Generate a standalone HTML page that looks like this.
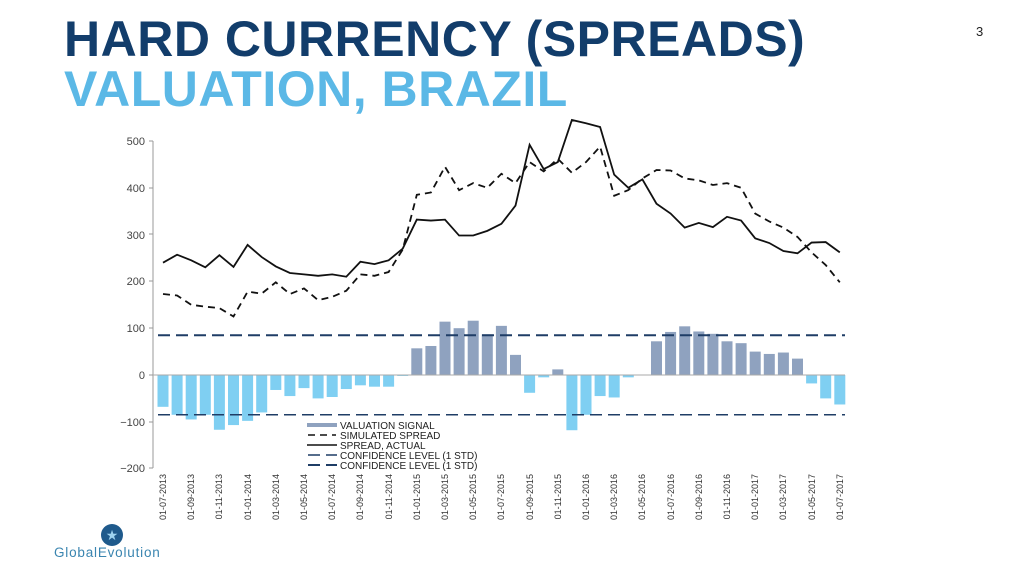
<!DOCTYPE html>
<html><head><meta charset="utf-8"><style>
body{margin:0;width:1024px;height:576px;background:#fff;overflow:hidden;font-family:"Liberation Sans",sans-serif}
.t1,.t2{position:absolute;left:64px;font-size:50px;line-height:50px;font-weight:bold;letter-spacing:0.5px;white-space:nowrap}
.t1{top:14px;color:#123d6b}
.t2{top:64px;color:#5bb8e6}
.pn{position:absolute;left:976px;top:24px;font-size:13px;color:#222}
svg{position:absolute;left:0;top:0}
</style></head><body>
<div class="t1">HARD CURRENCY (SPREADS)</div>
<div class="t2">VALUATION, BRAZIL</div>
<div class="pn">3</div>
<svg width="1024" height="576" font-family="Liberation Sans, sans-serif">
<g id="bars"></g>
<g fill="#444" font-size="11" text-anchor="end">
<text x="145" y="145">500</text><text x="145" y="192">400</text><text x="145" y="239">300</text>
<text x="145" y="285">200</text><text x="145" y="332">100</text><text x="145" y="379">0</text>
<text x="145" y="426">−100</text><text x="145" y="472">−200</text>
</g>
<line x1="153" y1="141" x2="153" y2="468" stroke="#999" stroke-width="1"/>
<g stroke="#999"><line x1="149" y1="141" x2="153" y2="141"/><line x1="149" y1="188" x2="153" y2="188"/><line x1="149" y1="234" x2="153" y2="234"/><line x1="149" y1="281" x2="153" y2="281"/><line x1="149" y1="328" x2="153" y2="328"/><line x1="149" y1="375" x2="153" y2="375"/><line x1="149" y1="422" x2="153" y2="422"/><line x1="149" y1="468" x2="153" y2="468"/></g>
<line x1="153" y1="375" x2="845" y2="375" stroke="#aaa"/>
<line x1="158" y1="335.2" x2="845" y2="335.2" stroke="#1f3d66" stroke-width="2" stroke-dasharray="12,6"/>
<line x1="158" y1="414.8" x2="845" y2="414.8" stroke="#1f3d66" stroke-width="1.5" stroke-dasharray="12,6"/>
<polyline id="sim" fill="none" stroke="#111" stroke-width="1.8" stroke-dasharray="7,5"/>
<polyline id="act" fill="none" stroke="#111" stroke-width="1.8"/>
<rect x="305" y="420" width="190" height="52" fill="#fff"/>
<g font-size="10" fill="#222">
<line x1="307" y1="425" x2="337" y2="425" stroke="#8fa2bf" stroke-width="4"/><text x="340" y="429">VALUATION SIGNAL</text>
<line x1="308" y1="435" x2="336" y2="435" stroke="#111" stroke-width="1.5" stroke-dasharray="7,5"/><text x="340" y="439">SIMULATED SPREAD</text>
<line x1="307" y1="445" x2="337" y2="445" stroke="#111" stroke-width="1.5"/><text x="340" y="449">SPREAD, ACTUAL</text>
<line x1="308" y1="455" x2="337" y2="455" stroke="#1f3d66" stroke-width="1.5" stroke-dasharray="12,6"/><text x="340" y="459">CONFIDENCE LEVEL (1 STD)</text>
<line x1="308" y1="465" x2="337" y2="465" stroke="#1f3d66" stroke-width="2" stroke-dasharray="12,6"/><text x="340" y="469">CONFIDENCE LEVEL (1 STD)</text>
</g>
<circle cx="112" cy="535" r="11" fill="#1f5a8c"/>
<text x="112" y="540" font-size="14" fill="#9fd3f0" text-anchor="middle">★</text>
<text x="54" y="557" font-size="13.5" fill="#3a85b0" letter-spacing="0.8">GlobalEvolution</text>
</svg>
<script>
var x=i=>163+14.1*i, y=v=>375-0.468*v;
var B=[-68,-85,-95,-85,-117,-107,-98,-80,-32,-45,-28,-50,-47,-30,-22,-25,-25,-2,57,62,114,100,116,87,105,43,-38,-5,12,-118,-85,-45,-48,-5,0,72,92,104,93,88,72,68,50,45,48,35,-18,-50,-63];
var A=[240,257,245,230,256,231,278,252,232,218,215,212,215,210,242,237,245,270,332,330,332,298,298,308,323,362,492,440,455,545,538,530,428,400,418,366,345,315,325,316,338,330,292,282,265,260,283,284,262];
var S=[173,170,150,146,143,125,178,174,198,173,185,160,167,180,215,212,220,268,385,390,445,395,410,400,430,410,455,435,462,432,455,488,383,395,420,438,437,420,416,406,410,400,345,328,315,295,262,235,198];
var g=document.getElementById('bars'),h='';
B.forEach((v,i)=>{var t=v>=0?y(v):375,hh=Math.abs(v)*0.468;h+='<rect x="'+(x(i)-5.5)+'" y="'+t+'" width="11" height="'+hh+'" fill="'+(v>=0?'#8fa2bf':'#7fcff2')+'"/>';});
g.innerHTML=h;
document.getElementById('act').setAttribute('points',A.map((v,i)=>x(i)+','+y(v)).join(' '));
document.getElementById('sim').setAttribute('points',S.map((v,i)=>x(i)+','+y(v)).join(' '));
</script>
<svg width="1024" height="576" font-family="Liberation Sans, sans-serif" style="position:absolute;left:0;top:0">
<g font-size="9" fill="#333" text-anchor="end">
<text transform="translate(166,474) rotate(-90)">01-07-2013</text>
<text transform="translate(194,474) rotate(-90)">01-09-2013</text>
<text transform="translate(222,474) rotate(-90)">01-11-2013</text>
<text transform="translate(251,474) rotate(-90)">01-01-2014</text>
<text transform="translate(279,474) rotate(-90)">01-03-2014</text>
<text transform="translate(307,474) rotate(-90)">01-05-2014</text>
<text transform="translate(335,474) rotate(-90)">01-07-2014</text>
<text transform="translate(363,474) rotate(-90)">01-09-2014</text>
<text transform="translate(392,474) rotate(-90)">01-11-2014</text>
<text transform="translate(420,474) rotate(-90)">01-01-2015</text>
<text transform="translate(448,474) rotate(-90)">01-03-2015</text>
<text transform="translate(476,474) rotate(-90)">01-05-2015</text>
<text transform="translate(504,474) rotate(-90)">01-07-2015</text>
<text transform="translate(533,474) rotate(-90)">01-09-2015</text>
<text transform="translate(561,474) rotate(-90)">01-11-2015</text>
<text transform="translate(589,474) rotate(-90)">01-01-2016</text>
<text transform="translate(617,474) rotate(-90)">01-03-2016</text>
<text transform="translate(645,474) rotate(-90)">01-05-2016</text>
<text transform="translate(674,474) rotate(-90)">01-07-2016</text>
<text transform="translate(702,474) rotate(-90)">01-09-2016</text>
<text transform="translate(730,474) rotate(-90)">01-11-2016</text>
<text transform="translate(758,474) rotate(-90)">01-01-2017</text>
<text transform="translate(786,474) rotate(-90)">01-03-2017</text>
<text transform="translate(815,474) rotate(-90)">01-05-2017</text>
<text transform="translate(843,474) rotate(-90)">01-07-2017</text>
</g>
</svg>
</body></html>
